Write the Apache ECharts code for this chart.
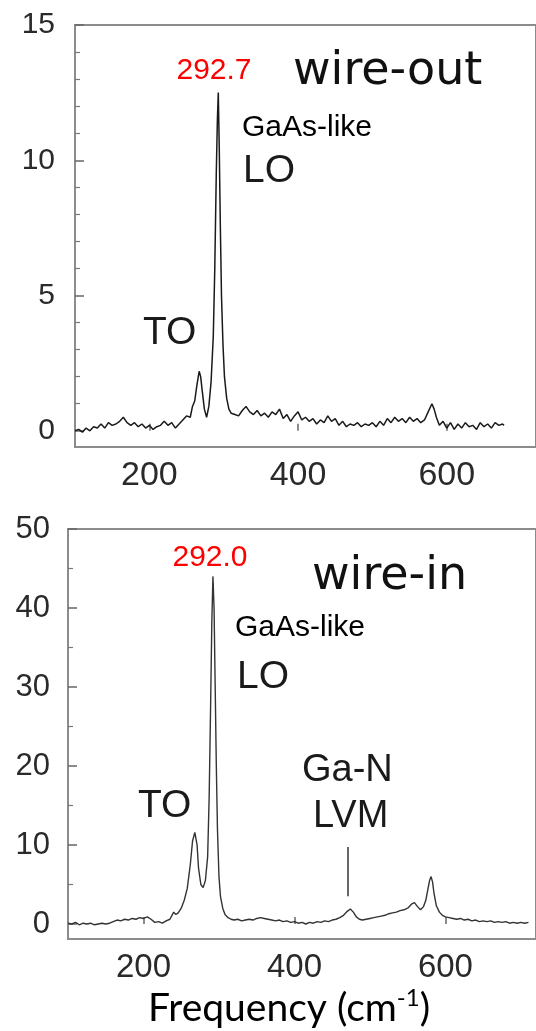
<!DOCTYPE html>
<html>
<head>
<meta charset="utf-8">
<script src="https://cdn.jsdelivr.net/npm/echarts@6/dist/echarts.min.js"></script>
<style>html,body{margin:0;padding:0;background:#fff}#c{width:536px;height:1031px}</style>
</head>
<body>
<div id="c"></div>
<script>
// ---- data: wire-out (top panel) ----
const freqOut = [100,105,110,115,120,125,130,135,140,145,150,155,160,165,170,175,180,185,190,195,200,205,210,215,220,225,230,235,240,245,250,255,258,261,264,267,269,271,274,277,280,283,286,288,290,291.5,292.7,294,295.5,297,299,301,304,307,310,315,320,325,330,335,340,345,350,355,360,365,370,375,380,385,390,395,400,405,410,415,420,425,430,435,440,445,450,455,460,465,470,475,480,485,490,495,500,505,510,515,520,525,530,535,540,545,550,555,560,565,570,575,580,583,586,590,595,600,605,610,615,620,625,630,635,640,645,650,655,660,665,670,675,677];
const intOut = [0.0,0.05,-0.05,0.1,0.0,0.15,0.1,0.25,0.1,0.3,0.2,0.25,0.35,0.5,0.3,0.2,0.3,0.15,0.25,0.1,0.2,0.05,0.15,0.2,0.35,0.2,0.3,0.1,0.25,0.4,0.55,0.5,0.9,1.1,1.7,2.2,2.0,1.5,0.8,0.5,0.9,1.8,3.5,6.0,9.5,11.5,12.5,10.5,7.5,5.0,3.2,2.0,1.2,0.8,0.65,0.6,0.55,0.75,0.9,0.7,0.6,0.75,0.55,0.65,0.5,0.7,0.6,0.8,0.45,0.6,0.35,0.55,0.7,0.4,0.5,0.35,0.45,0.25,0.4,0.3,0.55,0.35,0.45,0.2,0.35,0.15,0.25,0.2,0.3,0.15,0.25,0.2,0.3,0.15,0.35,0.2,0.45,0.3,0.5,0.35,0.45,0.3,0.5,0.35,0.45,0.3,0.4,0.7,1.0,0.8,0.5,0.2,0.35,0.1,0.3,0.05,0.25,0.1,0.3,0.15,0.2,0.05,0.3,0.15,0.25,0.1,0.3,0.2,0.25,0.2];

// ---- data: wire-in (bottom panel) ----
const freqIn = [100,105,110,115,120,125,130,135,140,145,150,155,160,165,170,175,180,185,190,195,200,205,210,215,220,225,230,235,240,243,246,250,254,258,262,265,268,271,273,276,279,282,285,287,289,290.5,292,293.5,295,296.5,298,300,302,305,308,312,316,320,325,330,335,340,345,350,355,360,365,370,375,380,385,390,395,400,405,410,415,420,425,430,435,440,445,450,455,460,465,470,474,478,482,486,490,495,500,505,510,515,520,525,530,535,540,545,550,555,559,563,567,571,574,577,579,581,583,585,588,592,596,600,605,610,615,620,625,630,635,640,645,650,655,660,665,670,675,680,685,690,695,700,705,710];
const intIn = [0.1,0.0,0.2,-0.1,0.1,0.0,0.1,-0.1,0.0,0.1,0.0,0.1,0.3,0.5,0.4,0.6,0.5,0.7,0.6,0.8,0.7,0.9,0.6,0.2,0.3,0.1,0.4,0.6,1.5,1.2,1.4,2.0,3.0,4.5,7.5,10.5,11.6,10.0,7.0,5.0,4.6,5.5,8.5,16,28,38,44,40,30,20,12,6,3.5,2.0,1.2,0.8,0.6,0.5,0.6,0.4,0.5,0.6,0.5,0.7,0.8,0.7,0.6,0.5,0.4,0.5,0.3,0.4,0.2,0.3,0.1,0.2,0.0,0.2,0.1,0.3,0.2,0.4,0.3,0.5,0.6,0.8,1.1,1.6,1.9,1.5,0.9,0.6,0.5,0.6,0.7,0.8,0.9,1.0,1.1,1.3,1.4,1.5,1.7,1.8,2.0,2.5,2.7,2.2,1.8,2.2,3.0,4.5,5.5,6.0,5.3,3.8,2.3,1.5,1.1,0.9,0.8,0.7,0.6,0.7,0.5,0.6,0.4,0.5,0.3,0.4,0.3,0.4,0.2,0.3,0.2,0.3,0.1,0.2,0.1,0.2,0.1,0.2];

// ---- ticks ----
const xTickValues = [200, 400, 600];
const yTopMajor = [0, 5, 10, 15];
const yTopMinor = [1,2,3,4,6,7,8,9,11,12,13,14];
const yBotMajor = [0, 10, 20, 30, 40, 50];
const yBotMinor = [5, 15, 25, 35, 45];
const lvmMarker = [470, 3.5, 9.75];

const xRange = [100, 720];
const yTopRange = [-0.6, 15];
const yBotRange = [-1.9, 50];

function pairs(xs, ys){ return xs.map((x,i)=>[x, ys[i]]); }

const chart = echarts.init(document.getElementById('c'), null, {renderer:'canvas'});

const gridBorder = '#8c8c8c';
function xAxis(gi, size){
  return {
    type:'value', gridIndex:gi, min:xRange[0], max:xRange[1], position:'bottom',
    axisLine:{show:false},
    splitLine:{show:false},
    axisTick:{show:true, inside:true, length:7, customValues:xTickValues, lineStyle:{color:'#666', width:1.5}},
    axisLabel:{customValues:xTickValues, margin:12, color:'#2a2a2a', fontFamily:'Liberation Sans', fontSize:size}
  };
}
function yMajor(gi, rng, vals, size, margin){
  return {
    type:'value', gridIndex:gi, min:rng[0], max:rng[1], position:'left',
    axisLine:{show:false}, splitLine:{show:false},
    axisTick:{show:true, inside:true, length:9, customValues:vals, lineStyle:{color:'#666', width:1.5}},
    axisLabel:{customValues:vals, margin:margin, color:'#2a2a2a', fontFamily:'Liberation Sans', fontSize:size}
  };
}
function yMinor(gi, rng, vals){
  return {
    type:'value', gridIndex:gi, min:rng[0], max:rng[1], position:'left', offset:0,
    axisLine:{show:false}, splitLine:{show:false},
    axisTick:{show:true, inside:true, length:5, customValues:vals, lineStyle:{color:'#777', width:1.2}},
    axisLabel:{show:false}
  };
}

function txt(x, y, text, font, color, align){
  return {type:'text', x:x, y:y, silent:true,
    style:{text:text, font:font, fill:color||'#111', align:align||'left', verticalAlign:'middle'}};
}

const F_ANN = 'Liberation Sans, Arial, sans-serif';
const F_WIRE = 'DejaVu Sans, sans-serif';

chart.setOption({
  animation:false,
  backgroundColor:'#fff',
  grid:[
    {left:75, top:25, width:471, height:422, show:true, borderColor:gridBorder, borderWidth:2, backgroundColor:'transparent'},
    {left:68, top:529, width:477, height:410, show:true, borderColor:gridBorder, borderWidth:2, backgroundColor:'transparent'}
  ],
  xAxis:[ xAxis(0, 34), xAxis(1, 33) ],
  yAxis:[
    yMajor(0, yTopRange, yTopMajor, 30, 20),
    yMinor(0, yTopRange, yTopMinor),
    yMajor(1, yBotRange, yBotMajor, 31, 18),
    yMinor(1, yBotRange, yBotMinor)
  ],
  series:[
    {type:'line', xAxisIndex:0, yAxisIndex:0, data:pairs(freqOut,intOut), showSymbol:false, symbol:'none',
      lineStyle:{color:'#1a1a1a', width:1.5}},
    {type:'line', xAxisIndex:1, yAxisIndex:2, data:pairs(freqIn,intIn), showSymbol:false, symbol:'none',
      lineStyle:{color:'#333', width:1.4},
      markLine:{silent:true, symbol:'none', label:{show:false},
        lineStyle:{color:'#333', width:1.5, type:'solid'},
        data:[[{coord:[lvmMarker[0], lvmMarker[1]]},{coord:[lvmMarker[0], lvmMarker[2]]}]]}}
  ],
  graphic:[
    txt(214, 71, '292.7', '30px ' + F_ANN, '#ff0000', 'center'),
    txt(293, 72, 'wire-out', '46px ' + F_WIRE, '#111'),
    txt(242, 128, 'GaAs-like', '30px ' + F_ANN, '#000'),
    txt(243, 171, 'LO', '39px ' + F_ANN, '#1a1a1a'),
    txt(143, 333, 'TO', '39px ' + F_ANN, '#1a1a1a'),

    txt(210, 558, '292.0', '30px ' + F_ANN, '#ff0000', 'center'),
    txt(312, 577, 'wire-in', '46px ' + F_WIRE, '#111'),
    txt(235, 628, 'GaAs-like', '30px ' + F_ANN, '#000'),
    txt(237, 677, 'LO', '39px ' + F_ANN, '#1a1a1a'),
    txt(138, 806, 'TO', '39px ' + F_ANN, '#1a1a1a'),
    txt(302, 771, 'Ga-N', '38px ' + F_ANN, '#1a1a1a'),
    txt(313, 817, 'LVM', '38px ' + F_ANN, '#1a1a1a'),
    {type:'text', x:289, y:1008, silent:true,
      style:{text:'{m|Frequency (cm}{s|-1}{m|)}', align:'center', verticalAlign:'middle', fill:'#000',
        rich:{
          m:{fontFamily:'Lato, sans-serif', fontSize:39, lineHeight:44, fill:'#000'},
          s:{fontFamily:'Lato, sans-serif', fontSize:24, lineHeight:24, verticalAlign:'top', fill:'#000'}
        }}}
  ]
});
</script>
</body>
</html>
